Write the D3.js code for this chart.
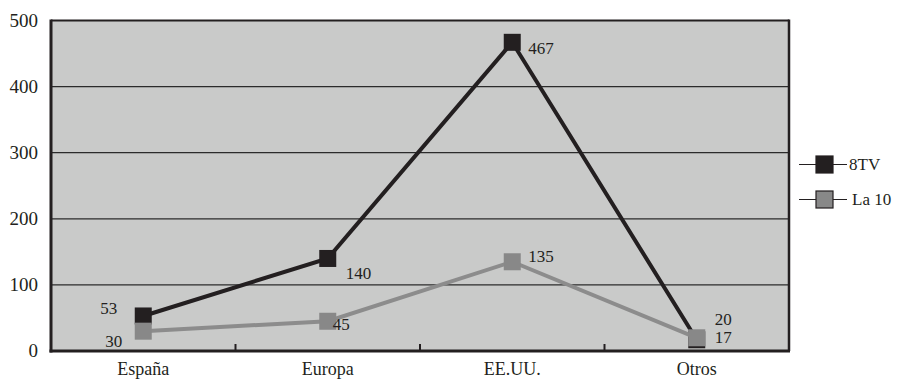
<!DOCTYPE html>
<html><head><meta charset="utf-8">
<script src="https://cdn.jsdelivr.net/npm/d3@7"></script>
<style>
html,body{margin:0;padding:0;background:#fff;}
svg{display:block;font-family:"Liberation Serif","DejaVu Serif",serif;}
</style></head>
<body><svg id="c" width="902" height="382"></svg>
<script>
const categories = ["España", "Europa", "EE.UU.", "Otros"];
const series8TV = [53, 140, 467, 17];
const seriesLa10 = [30, 45, 135, 20];
const seriesNames = ["8TV", "La 10"];
const yTicks = [0, 100, 200, 300, 400, 500];

// label placement offsets (dx, dy, anchor) per point
const labelOff8TV = [[-26,-8,"end"],[18,15,"start"],[16,6,"start"],[18,-3,"start"]];
const labelOffLa10 = [[-21,10,"end"],[5,3,"start"],[16,-6,"start"],[18,-19,"start"]];

const W = 902, H = 382;
const m = {l:51, r:789, t:20.5, b:351};
const svg = d3.select("#c");
const x = d3.scaleBand().domain(categories).range([m.l, m.r]).padding(0);
const y = d3.scaleLinear().domain([0, 500]).range([m.b, m.t]);
const cx = c => x(c) + x.bandwidth()/2;

// plot background
svg.append("rect").attr("x", m.l).attr("y", m.t).attr("width", m.r-m.l).attr("height", m.b-m.t).attr("fill", "#c9cac9");

// gridlines
svg.append("g").selectAll("line").data(yTicks.filter(d=>d>0 && d<500)).join("line")
  .attr("x1", m.l).attr("x2", m.r).attr("y1", d=>y(d)).attr("y2", d=>y(d))
  .attr("stroke", "#2b2b2b").attr("stroke-width", 1.3);

// y labels
const yAxis = d3.axisLeft(y).tickValues(yTicks).tickSize(0).tickPadding(13).tickFormat(d3.format("d"));
const ya = svg.append("g").attr("transform", `translate(${m.l},0)`).call(yAxis);
ya.select(".domain").remove();
ya.selectAll("text").attr("font-size", 19).attr("fill", "#231f20").attr("font-family", "Liberation Serif").attr("dy", "0.3em");

// x labels
const xAxis = d3.axisBottom(x).tickSize(0).tickPadding(11);
const xa = svg.append("g").attr("transform", `translate(0,${m.b})`).call(xAxis);
xa.select(".domain").remove();
xa.selectAll("text").attr("font-size", 18).attr("fill", "#231f20").attr("font-family", "Liberation Serif");

// x tick marks at band boundaries
svg.append("g").selectAll("line").data(categories.slice(1)).join("line")
  .attr("x1", d=>x(d)).attr("x2", d=>x(d)).attr("y1", m.b).attr("y2", m.b-7)
  .attr("stroke", "#231f20").attr("stroke-width", 2);

// border
svg.append("line").attr("x1", m.l).attr("x2", m.r).attr("y1", m.t).attr("y2", m.t).attr("stroke", "#231f20").attr("stroke-width", 2);
svg.append("line").attr("x1", m.r).attr("x2", m.r).attr("y1", m.t-1).attr("y2", m.b).attr("stroke", "#231f20").attr("stroke-width", 2.5);
svg.append("line").attr("x1", m.l).attr("x2", m.l).attr("y1", m.t-1).attr("y2", m.b+1.5).attr("stroke", "#231f20").attr("stroke-width", 3);
svg.append("line").attr("x1", m.l-1.5).attr("x2", m.r+1).attr("y1", m.b).attr("y2", m.b).attr("stroke", "#231f20").attr("stroke-width", 3);

const series = [
  {name: seriesNames[0], values: series8TV, off: labelOff8TV, line: "#231f20", fill: "#231f20"},
  {name: seriesNames[1], values: seriesLa10, off: labelOffLa10, line: "#8c8c8c", fill: "#888888"}
];
const S = 17;
const lineGen = d3.line().x((d,i)=>cx(categories[i])).y(d=>y(d));
series.forEach(s => {
  const g = svg.append("g");
  g.append("path").attr("d", lineGen(s.values)).attr("fill", "none").attr("stroke", s.line).attr("stroke-width", 4);
  g.selectAll("rect").data(s.values).join("rect")
    .attr("x", (d,i)=>cx(categories[i])-S/2).attr("y", d=>y(d)-S/2)
    .attr("width", S).attr("height", S).attr("fill", s.fill);
});
series.forEach(s => {
  svg.append("g").selectAll("text").data(s.values).join("text")
    .attr("x", (d,i)=>cx(categories[i]) + s.off[i][0])
    .attr("y", (d,i)=>y(d) + s.off[i][1])
    .attr("dy", "0.35em")
    .attr("text-anchor", (d,i)=>s.off[i][2])
    .attr("font-size", 17).attr("fill", "#231f20")
    .text(d=>d);
});

// legend
const leg = svg.append("g");
series.forEach((s, i) => {
  const ly = 164.5 + i*35;
  const x0 = 799, x1 = 847;
  leg.append("line").attr("x1", x0).attr("x2", x1).attr("y1", ly).attr("y2", ly).attr("stroke", "#231f20").attr("stroke-width", 1.2);
  leg.append("rect").attr("x", 816).attr("y", ly-8.5).attr("width", 17).attr("height", 17)
    .attr("fill", s.fill).attr("stroke", "#231f20").attr("stroke-width", 1.2);
  leg.append("text").attr("x", i===0 ? 849 : 852).attr("y", ly).attr("dy", "0.35em")
    .attr("font-size", 17).attr("fill", "#231f20").text(s.name);
});
</script></body></html>
